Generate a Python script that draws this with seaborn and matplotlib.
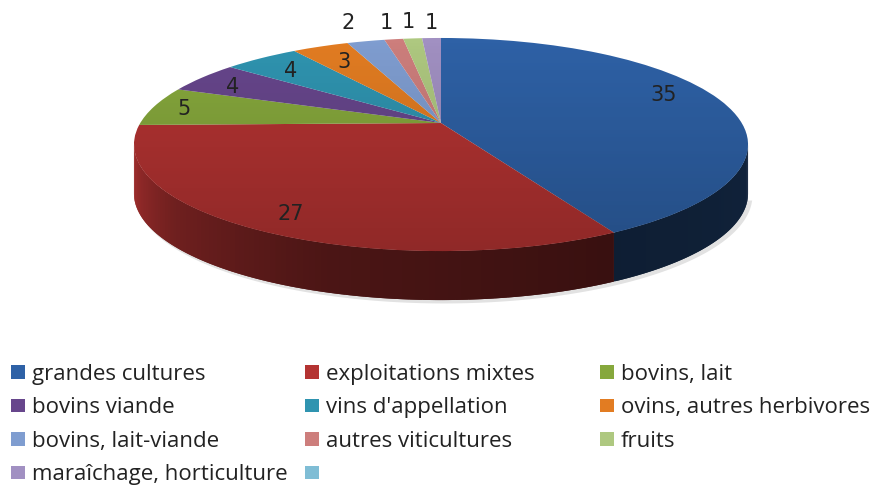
import numpy as np
import matplotlib
matplotlib.use("Agg")
import matplotlib.pyplot as plt
from matplotlib.patches import Patch, Polygon
from matplotlib.transforms import Transform
import seaborn as sns

categories = ["grandes cultures", "exploitations mixtes", "bovins, lait", "bovins viande",
              "vins d'appellation", "ovins, autres herbivores", "bovins, lait-viande",
              "autres viticultures", "fruits", "maraîchage, horticulture", ""]
values = [35, 27, 5, 4, 4, 3, 2, 1, 1, 1, 0]
colors = ["#2e61a6", "#b43332", "#86a83c", "#67468c", "#2f94b0", "#e27c22",
          "#7f9dd0", "#cd7e7c", "#aec880", "#a190c2", "#7fbdd5"]
# where each number sits on the picture
label_xy = [(664, 95), (291, 214), (184, 109), (233, 87), (291, 71), (344, 62),
            (348, 23), (386, 23), (408, 22), (431, 23)]

sns.set_theme(style="white")
plt.rcParams["font.family"] = ["Open Sans", "DejaVu Sans"]
palette = sns.color_palette(colors)

# tilt of the disc, in pixels
HUB_X, HUB_Y = 441, 123
C, A, B = 0.202, 102.2, 300.7
DEPTH = 49


class Tilt(Transform):
    input_dims = 2
    output_dims = 2

    def transform_non_affine(self, xy):
        xy = np.asarray(xy, dtype=float)
        d = 1 + C * xy[:, 1]
        return np.column_stack([HUB_X + B * xy[:, 0] / d, HUB_Y - A * xy[:, 1] / d])


def rim(t1, t2, drop=0.0):
    t = np.radians(np.linspace(t1, t2, max(2, int(abs(t2 - t1)) + 2)))
    pts = Tilt().transform_non_affine(np.column_stack([np.cos(t), np.sin(t)]))
    pts[:, 1] += drop
    return pts


fig = plt.figure(figsize=(8.74, 4.86), dpi=100)
ax = fig.add_axes([0, 0, 1, 1])
wedges, _ = ax.pie(values, colors=palette, startangle=90, counterclock=False)
tilt = Tilt() + ax.transData
for w in wedges:
    w.set_transform(tilt)
    w.set_linewidth(0)
    w.set_zorder(3)
ax.set_aspect("auto")
ax.set_xlim(0, 874)
ax.set_ylim(486, 0)
ax.axis("off")

# soft shadow under the disc
low = rim(-165, -15, DEPTH + 2)
ax.fill(low[:, 0] + 3, low[:, 1], color="#e2e2e2", lw=2, zorder=0)

# side wall, only the near part of the rim shows
for w, col in zip(wedges, palette):
    for t1, t2 in [(w.theta1, w.theta2), (w.theta1 + 360, w.theta2 + 360), (w.theta1 - 360, w.theta2 - 360)]:
        lo, hi = max(t1, 191.5), min(t2, 348.5)
        if hi <= lo:
            continue
        # each strip runs over the next one so no seams show
        for s in np.arange(hi - 1.0, lo - 1.0, -1.0):
            a = max(s, lo)
            e = min(s + 2.0, hi)
            poly = np.vstack([rim(a, e), rim(a, e, DEPTH)[::-1]])
            clock = (90 - a) % 360
            k = np.interp(clock, [101, 152, 200, 232, 259], [0.36, 0.31, 0.42, 0.62, 0.9])
            ax.fill(poly[:, 0], poly[:, 1], color=tuple(np.array(col) * k), lw=0, zorder=1)

# top of the disc darkens a little towards the viewer
shade = np.zeros((64, 2, 4))
shade[:, :, 3] = np.linspace(0, 0.2, 64)[:, None]
im = ax.imshow(shade, extent=(130, 752, 252, 37), aspect="auto", zorder=4)
im.set_clip_path(Polygon(rim(0, 360), transform=ax.transData))
ax.set_xlim(0, 874)
ax.set_ylim(486, 0)

for (x, y), v in zip(label_xy, values):
    ax.text(x, y, str(v), ha="center", va="center", fontsize=15, color="#222222",
            family="DejaVu Sans", zorder=5)

# legend, filled row by row with three uneven columns
col_x = [11, 305, 600]
for i, x in enumerate(col_x):
    handles = [Patch(facecolor=colors[j], edgecolor="none") for j in range(i, len(values), 3)]
    names = [categories[j] for j in range(i, len(values), 3)]
    leg = ax.legend(handles, names, loc="upper left", bbox_to_anchor=(x, 364), bbox_transform=ax.transData,
                    frameon=False, fontsize=16, borderpad=0, borderaxespad=0, labelspacing=0.56,
                    handlelength=0.63, handleheight=0.55, handletextpad=0.3)
    for t in leg.get_texts():
        t.set_color("#222222")
    ax.add_artist(leg)
    ax.legend_ = None

fig.savefig("out.png", dpi=100)
